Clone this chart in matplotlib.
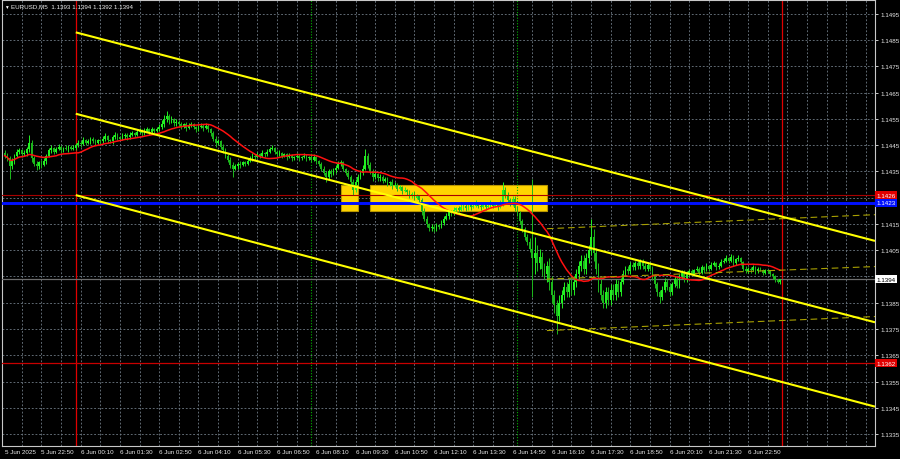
import numpy as np
import pandas as pd
import matplotlib
matplotlib.use("Agg")
import matplotlib.pyplot as plt
import matplotlib.transforms as mtransforms
from matplotlib.patches import Rectangle

# ---------------- data ----------------
symbol = "EURUSD,M5"
start_time = "2025-06-05 21:35"
bar_minutes = 5
first_open = 1.1442

close = [
    1.1441, 1.1440, 1.1437, 1.1439, 1.1441, 1.14425, 1.1443, 1.14415, 1.1442, 1.14435,
    1.1446, 1.1440, 1.1438, 1.1437, 1.14385, 1.14375, 1.1439, 1.1441, 1.1443, 1.1444,
    1.14425, 1.14435, 1.14445, 1.1443, 1.1444, 1.14435, 1.14445, 1.14435, 1.1444, 1.1445,
    1.1446, 1.14455, 1.1447, 1.1446, 1.14465, 1.14475, 1.14465, 1.1446, 1.1447, 1.14465,
    1.14475, 1.14485, 1.1447, 1.14465, 1.1448, 1.1449, 1.1448, 1.14475, 1.14485, 1.1449,
    1.1448, 1.1449, 1.14495, 1.1449, 1.1450, 1.14505, 1.14495, 1.14505, 1.1451, 1.1450,
    1.1451, 1.14505, 1.1451, 1.1452, 1.1453, 1.1455, 1.1456, 1.14545, 1.1455, 1.14535,
    1.1454, 1.1453, 1.1452, 1.1453, 1.14515, 1.14525, 1.1453, 1.1452, 1.1451, 1.1452,
    1.14525, 1.14515, 1.14525, 1.1451, 1.14495, 1.14475, 1.1446, 1.14465, 1.14445, 1.1443,
    1.1441, 1.14395, 1.14375, 1.1436, 1.1437, 1.1438, 1.14375, 1.14385, 1.1438, 1.1439,
    1.1440, 1.1441, 1.14405, 1.14415, 1.1441, 1.1442, 1.14415, 1.14425, 1.14435, 1.1444,
    1.14425, 1.14415, 1.1442, 1.1441, 1.14415, 1.14405, 1.1441, 1.1440, 1.14405, 1.1441,
    1.1440, 1.14405, 1.1441, 1.1440, 1.14405, 1.14395, 1.14405, 1.1439, 1.1438, 1.1436,
    1.14345, 1.1433, 1.1435, 1.1434, 1.14355, 1.14365, 1.1438, 1.14385, 1.1436, 1.14345,
    1.1433, 1.1431, 1.1428, 1.1431, 1.1433, 1.14345, 1.1436, 1.1441, 1.14375, 1.1435,
    1.1433, 1.1434, 1.14325, 1.1433, 1.14315, 1.1432, 1.14305, 1.1431, 1.14295, 1.1430,
    1.14285, 1.1429, 1.14275, 1.1428, 1.1427, 1.1426, 1.14265, 1.1425, 1.14255, 1.1424,
    1.1420, 1.1417, 1.1415, 1.14135, 1.1414, 1.1413, 1.14145, 1.1414, 1.14155, 1.1417,
    1.1418, 1.14195, 1.1419, 1.14205, 1.1421, 1.14205, 1.14215, 1.1422, 1.1421, 1.14225,
    1.14215, 1.1422, 1.1423, 1.1422, 1.14215, 1.14225, 1.14215, 1.1422, 1.1423, 1.1422,
    1.14225, 1.14215, 1.1423, 1.1428, 1.1426, 1.1424, 1.1423, 1.14245, 1.1421, 1.1419,
    1.1416, 1.1413, 1.1410, 1.1408, 1.14055, 1.1402, 1.1404, 1.1400, 1.14025, 1.1398,
    1.1396, 1.1399, 1.1393, 1.1388, 1.1384, 1.1380, 1.1385, 1.1388, 1.1391, 1.1389,
    1.1392, 1.1390, 1.1393, 1.1396, 1.1399, 1.1401, 1.1398, 1.1402, 1.1405, 1.1410,
    1.1404, 1.1398, 1.1392, 1.1388, 1.1385, 1.1389, 1.1386, 1.1390, 1.1388, 1.1392,
    1.1389, 1.1393, 1.1396, 1.1398, 1.1397, 1.13995, 1.13985, 1.1400, 1.1399, 1.14005,
    1.1399, 1.1398, 1.13995, 1.1398, 1.1395, 1.1392, 1.1389, 1.1387, 1.1390, 1.1393,
    1.1391, 1.1389, 1.1392, 1.1394, 1.13915, 1.1395, 1.13965, 1.1394, 1.1396, 1.1397,
    1.1396, 1.13975, 1.1398, 1.13965, 1.13985, 1.13975, 1.1399, 1.1398, 1.13995, 1.1400,
    1.13985, 1.1399, 1.14005, 1.1401, 1.1402, 1.1401, 1.14025, 1.1400, 1.14015, 1.1402,
    1.14005, 1.1398, 1.1397, 1.1398, 1.13975, 1.13985, 1.1397, 1.1398, 1.13975, 1.13965,
    1.13975, 1.1397, 1.1396, 1.1395, 1.13935, 1.1393, 1.1394,
]

# upper / lower shadow lengths in pips
wick_up_pips = [
    1, 1, 1, 1, 0.5, 1, 1, 0.5, 1, 1,
    3, 1, 1, 1, 0.5, 1, 1, 0.5, 1, 1,
    0.5, 1, 1, 0.5, 0.5, 1, 0.5, 0.5, 1, 1,
    1, 0.5, 1, 0.5, 1, 0.5, 0.5, 1, 0.5, 0.5,
    1, 1, 0.5, 0.5, 1, 1, 0.5, 0.5, 1, 0.5,
    0.5, 1, 1, 0.5, 1, 1, 0.5, 1, 1, 0.5,
    1, 0.5, 1, 1, 1.5, 1.5, 2, 1, 1, 0.5,
    1, 0.5, 1, 0.5, 1, 1, 1, 0.5, 0.5, 1,
    1, 0.5, 1, 0.5, 0.5, 1, 1, 1, 0.5, 1,
    1, 0.5, 1, 1, 1, 0.5, 1, 0.5, 0.5, 1,
    1, 1, 0.5, 1, 0.5, 1, 0.5, 1, 1, 1,
    0.5, 0.5, 1, 0.5, 0.5, 0.5, 1, 0.5, 0.5, 1,
    0.5, 0.5, 1, 0.5, 0.5, 1, 1, 0.5, 0.5, 0.5,
    1, 0.5, 1, 1, 1, 1, 1, 1, 0.5, 0.5,
    1, 0.5, 1, 1, 1, 1, 1.5, 2.5, 1, 1,
    1, 1, 0.5, 1, 0.5, 1, 1, 0.5, 1, 1,
    0.5, 1, 0.5, 1, 0.5, 1, 0.5, 1, 1, 0.5,
    1, 1, 1, 0.5, 1, 1, 1, 0.5, 1, 1,
    1, 1, 1, 1, 0.5, 1, 1, 1, 0.5, 1,
    0.5, 1, 1, 0.5, 0.5, 1, 0.5, 0.5, 1, 0.5,
    1, 0.5, 1, 3, 1, 1, 1, 1, 1, 1,
    1, 1, 1, 1, 1.5, 26.5, 6, 3, 3, 2,
    2, 2, 3, 2, 2, 2, 3, 2, 2, 2,
    2, 2, 2, 2, 2, 2, 2, 2, 2, 7,
    3, 2, 2, 2, 2, 2, 2, 2, 2, 2,
    1.5, 1.5, 1.5, 1, 1, 1, 1, 1, 1, 1,
    1, 1, 1, 1, 1, 1, 1, 1, 1.5, 1.5,
    1, 1, 1, 1, 1, 1, 1, 1, 1, 1,
    1, 0.5, 1, 0.5, 1, 0.5, 1, 0.5, 1, 1,
    0.5, 1, 1, 1, 1, 0.5, 1, 0.5, 0.5, 1,
    0.5, 0.5, 1, 0.5, 0.5, 1, 0.5, 0.5, 0.5, 0.5,
    0.5, 0.5, 0.5, 0.5, 0.5, 0.5, 0,
]
wick_dn_pips = [
    1, 1, 5, 1, 1, 0.5, 1, 1, 0.5, 1,
    1, 1.5, 1, 1.5, 1, 1, 0.5, 1, 0.5, 1,
    1, 0.5, 0.5, 1, 0.5, 0.5, 1, 0.5, 0.5, 1,
    0.5, 1, 0.5, 1, 0.5, 1, 0.5, 1, 0.5, 1,
    0.5, 1, 1, 0.5, 1, 0.5, 1, 0.5, 0.5, 1,
    1, 0.5, 0.5, 1, 0.5, 0.5, 1, 0.5, 0.5, 1,
    0.5, 1, 0.5, 0.5, 1, 1, 1, 1.5, 1, 1,
    1, 1, 1, 0.5, 1, 0.5, 0.5, 1, 1, 0.5,
    0.5, 1, 0.5, 1, 1, 1, 1.5, 1, 1, 1,
    1, 1, 1, 3, 0.5, 1, 1, 0.5, 1, 0.5,
    0.5, 1, 1, 0.5, 1, 0.5, 1, 0.5, 0.5, 0.5,
    1, 1, 0.5, 1, 0.5, 1, 0.5, 1, 0.5, 0.5,
    1, 0.5, 0.5, 1, 0.5, 1, 0.5, 1, 1, 1,
    1, 2, 1, 1, 0.5, 1, 0.5, 1, 1, 1,
    1, 1.5, 2, 1, 1, 1, 1, 0.5, 1, 1,
    1.5, 1, 1, 1, 1, 0.5, 1, 1, 1, 0.5,
    1, 0.5, 1, 0.5, 1, 1, 1, 1, 0.5, 1,
    1.5, 1, 1, 1, 1, 1, 0.5, 1, 0.5, 1,
    0.5, 1, 1, 0.5, 1, 1, 0.5, 1, 1, 0.5,
    1, 0.5, 0.5, 1, 1, 0.5, 1, 0.5, 0.5, 1,
    0.5, 1, 0.5, 1, 1, 1, 1, 1, 1, 1,
    1, 1, 1, 1, 1, 15, 6, 3, 2, 3,
    2, 3, 3, 3, 3, 7, 2, 2, 2, 2,
    2, 2, 2, 2, 2, 2, 2, 2, 2, 2,
    3, 2, 3, 2, 2, 2, 2, 2, 2, 2,
    2, 1.5, 1, 1, 1, 1, 1, 1, 1, 1,
    1, 1, 1, 1, 1.5, 1.5, 1.5, 2, 1, 1,
    1, 1.5, 1, 1, 1, 1, 1, 1, 1, 1,
    0.5, 1, 0.5, 1, 0.5, 1, 0.5, 1, 0.5, 0.5,
    1, 0.5, 0.5, 0.5, 0.5, 1, 0.5, 1, 0.5, 0.5,
    1, 1, 0.5, 0.5, 1, 0.5, 1, 0.5, 0.5, 1,
    0.5, 0.5, 1, 1, 0.5, 0.5, 1,
]

ma_period = 20

price_ticks = [1.1335, 1.1345, 1.1355, 1.1365, 1.1375, 1.1385, 1.1395, 1.1405,
               1.1415, 1.1425, 1.1435, 1.1445, 1.1455, 1.1465, 1.1475, 1.1485, 1.1495]

level_red_upper = 1.1426
level_blue = 1.1423
level_red_lower = 1.1362

# descending channel (yellow)
channel_times = ["2025-06-06 00:00", "2025-06-06 23:55"]
channel_upper = [1.1488, 1.1418]
channel_mid = [1.1457, 1.1387]
channel_lower = [1.1426, 1.1355]

# thin dashed channel
reg_times = ["2025-06-06 16:00", "2025-06-06 23:55"]
reg_upper = [1.14132, 1.14170]
reg_mid = [1.13940, 1.13974]
reg_lower = [1.13744, 1.13782]

# yellow zones
box_starts = ["2025-06-06 09:00", "2025-06-06 10:00"]
box_ends = ["2025-06-06 09:35", "2025-06-06 16:00"]
box_low = 1.1420
box_high = 1.1430

day_separators = ["2025-06-06 00:00", "2025-06-07 00:00"]
session_lines = ["2025-06-06 08:00", "2025-06-06 15:00"]

# ---------------- derived ----------------
pip = 0.0001
close = np.array(close)
n = len(close)
opens = np.concatenate([[first_open], close[:-1]])
body_top = np.maximum(opens, close)
body_bot = np.minimum(opens, close)
high = body_top + np.array(wick_up_pips) * pip
low = body_bot - np.array(wick_dn_pips) * pip
idx = np.arange(n)
t0 = pd.Timestamp(start_time)
times = pd.date_range(t0, periods=n, freq=f"{bar_minutes}min")
step = pd.Timedelta(minutes=bar_minutes)


def ti(t):
    return (pd.Timestamp(t) - t0) / step


ma = pd.Series(close).rolling(ma_period, min_periods=1).mean().values

# ---------------- figure ----------------
W, H = 900, 460
fig = plt.figure(figsize=(W / 100, H / 100), dpi=100, facecolor="black")
ax = fig.add_axes([2 / W, 13 / H, 873 / W, 446 / H])
ax.set_facecolor("black")

XMIN, XMAX = -1.06, 354.7
YMIN, YMAX = 1.133043, 1.150033
ax.set_xlim(XMIN, XMAX)
ax.set_ylim(YMIN, YMAX)

font = ["Liberation Sans", "DejaVu Sans"]
fs = 4.5
grid_kw = dict(color="#6f7a85", lw=0.6, ls=(0, (2.2, 2.2)), zorder=1)

for p in price_ticks:
    ax.axhline(p, **grid_kw)
for gx in np.arange(7, XMAX, 8):
    ax.axvline(gx, **grid_kw)

# yellow zones
for s, e in zip(box_starts, box_ends):
    ax.add_patch(Rectangle((ti(s), box_low), ti(e) - ti(s), box_high - box_low,
                           facecolor="#ffd500", edgecolor="#b89600", lw=0.8, zorder=2))

# day separators / session lines
for t in day_separators:
    ax.axvline(ti(t), color="#e00000", lw=0.9, zorder=2.5)
for t in session_lines:
    ax.axvline(ti(t), color="#00b000", lw=0.8, ls=(0, (1, 1.5)), zorder=2.5)

# current price line
ax.axhline(close[-1], color="#6e6e6e", lw=0.9, zorder=2.6)

# candles
up = close >= opens
col = np.where(up, "#22f022", "#1cb81c")
ax.vlines(idx, low, high, colors=col, lw=0.7, zorder=3)
ax.bar(idx, np.maximum(body_top - body_bot, 0.00002), bottom=body_bot, width=0.72,
       color=col, edgecolor="none", zorder=3.1)

# horizontal levels
ax.axhline(level_red_upper, color="#a80000", lw=0.8, zorder=4)
ax.axhline(level_red_lower, color="#c80000", lw=0.9, zorder=4)
ax.axhline(level_blue, color="#0010ff", lw=2.1, zorder=4)

# moving average
ax.plot(idx, ma, color="#ff1010", lw=1.1, zorder=5)


def ray(times_, prices, **kw):
    x1, x2 = ti(times_[0]), ti(times_[1])
    p1, p2 = prices
    slope = (p2 - p1) / (x2 - x1)
    ax.plot([x1, XMAX], [p1, p1 + slope * (XMAX - x1)], **kw)


for pr in (channel_upper, channel_mid, channel_lower):
    ray(channel_times, pr, color="#ffff00", lw=1.5, zorder=6, solid_capstyle="butt")
for pr in (reg_upper, reg_mid, reg_lower):
    ray(reg_times, pr, color="#a8a000", lw=0.8, ls=(0, (6, 3.5)), zorder=5.5)

# axes cosmetics
for sp in ax.spines.values():
    sp.set_color("#c8c8c8")
    sp.set_linewidth(0.8)

# price tags on the right axis (drawn over the tick labels, as in the terminal)
tags = [(level_red_upper, "#e00000", "white"),
        (level_blue, "#0010ff", "white"),
        (close[-1], "white", "black"),
        (level_red_lower, "#e00000", "white")]
covered = [p for p in price_ticks if min(abs(p - t[0]) for t in tags) < 0.00012]

ax.yaxis.tick_right()
ax.set_yticks(price_ticks)
ax.set_yticklabels(["" if p in covered else f"{p:.4f}" for p in price_ticks])
ax.tick_params(axis="y", colors="#e8e8e8", length=2.5, width=0.6, pad=1.5,
               labelsize=fs)

xt = [0] + list(range(15, n, 16))
xl = [f"{times[0].day} {times[0]:%b %Y}"] + \
     [f"{times[i].day} {times[i]:%b %H:%M}" for i in xt[1:]]
ax.set_xticks(xt)
ax.set_xticklabels(xl)
ax.tick_params(axis="x", colors="#e8e8e8", length=0, pad=2.2, labelsize=fs)
for lab in ax.get_xticklabels():
    lab.set_ha("left")
    lab.set_fontfamily(font)
for lab in ax.get_yticklabels():
    lab.set_fontfamily(font)

trans = mtransforms.blended_transform_factory(ax.transAxes, ax.transData)
for p, fc, tc in tags:
    ax.text(1.0015, p, f"{p:.4f}", transform=trans, ha="left", va="center",
            fontsize=fs, color=tc, family=font, clip_on=False, zorder=10,
            bbox=dict(boxstyle="square,pad=0.2", fc=fc, ec="none"))

# title
last = f"{opens[-1]:.4f} {high[-1]:.4f} {low[-1]:.4f} {close[-1]:.4f}"
fig.text(4 / W, 1 - 7 / H, "\u25bc", color="white", fontsize=3.4, family=font,
         va="center", ha="left")
fig.text(11 / W, 1 - 7 / H, f"{symbol}  {last}", color="#f0f0f0", fontsize=fs,
         family=font, va="center", ha="left")

fig.savefig("out.png", dpi=100, facecolor="black")
